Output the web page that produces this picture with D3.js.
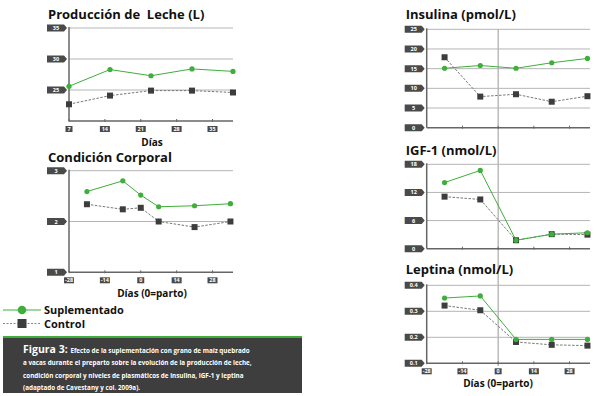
<!DOCTYPE html>
<html><head><meta charset="utf-8">
<script src="https://cdn.jsdelivr.net/npm/d3@7"></script>
<style>
body{margin:0;background:#fff;}
svg{display:block;font-family:"Open Sans","DejaVu Sans",sans-serif;}
</style></head>
<body><svg id="c" width="600" height="396"></svg>
<script>
// ---- data ----
const milkDays = [7, 15, 23, 31, 39];
const milkSup = [25.6, 28.3, 27.3, 28.4, 28.0];
const milkCtl = [22.7, 24.1, 24.9, 24.9, 24.6];
const milkXTicks = [7, 14, 21, 28, 35];
const milkYTicks = [25, 30, 35];

const days = [-21, -7, 7, 21, 35];
const ccDays = [-21, -7, 0, 7, 21, 35];
const ccSup = [2.59, 2.80, 2.52, 2.29, 2.31, 2.35];
const ccCtl = [2.34, 2.24, 2.27, 2.00, 1.89, 2.00];
const ccYTicks = [1, 2, 3];
const dayTicks = [-28, -14, 0, 14, 28];

const insSup = [15.1, 15.8, 15.1, 16.5, 17.6];
const insCtl = [17.9, 7.9, 8.5, 6.6, 8.0];
const insYTicks = [0, 5, 10, 15, 20, 25];

const igfSup = [14.1, 16.7, 1.8, 3.1, 3.4];
const igfCtl = [11.1, 10.5, 1.8, 3.1, 3.0];
const igfYTicks = [0, 6, 12, 18];

const lepSup = [0.351, 0.359, 0.192, 0.192, 0.192];
const lepCtl = [0.322, 0.304, 0.182, 0.171, 0.168];
const lepYTicks = [0.1, 0.2, 0.3, 0.4];

const titles = ["Producción de  Leche (L)", "Condición Corporal", "Insulina (pmol/L)", "IGF-1 (nmol/L)", "Leptina (nmol/L)"];
const legendLabels = ["Suplementado", "Control"];
const captionLines = [
  "Efecto de la suplementación con grano de maíz quebrado",
  "a vacas durante el preparto sobre la evolución de la producción de leche,",
  "condición corporal y niveles de plasmáticos de insulina, IGF-1 y leptina",
  "(adaptado de Cavestany y col. 2009a)."
];

const GREEN = "#3fae3a", DARK = "#3d3d3d", TAG = "#4a4a4a";
const svg = d3.select("#c");

function tagY(g, x, y, label) {
  const w = 17, h = 7;
  const p = d3.path();
  p.moveTo(x - 22, y - h/2); p.lineTo(x - 22 + w, y - h/2); p.lineTo(x - 22 + w + 3, y);
  p.lineTo(x - 22 + w, y + h/2); p.lineTo(x - 22, y + h/2); p.closePath();
  g.append("path").attr("d", p.toString()).attr("fill", TAG);
  g.append("text").attr("x", x - 22 + w/2 + 0.5).attr("y", y + 2).attr("text-anchor", "middle")
    .attr("font-size", 5.5).attr("font-weight", 700).attr("fill", "#fff").text(label);
}
function tagX(g, x, y, label) {
  const w = String(label).length > 1 ? 10 : 7, h = 6;
  g.append("rect").attr("x", x - w/2).attr("y", y - h/2).attr("width", w).attr("height", h).attr("fill", TAG);
  g.append("text").attr("x", x).attr("y", y + 2).attr("text-anchor", "middle")
    .attr("font-size", 5.5).attr("font-weight", 700).attr("fill", "#fff").text(label);
}

function panel(o) {
  const g = svg.append("g");
  const x = d3.scaleLinear().domain(o.xd).range([o.x0, o.x1]);
  const y = d3.scaleLinear().domain(o.yd).range([o.y0, o.y1]);
  o.yTicks.forEach(t => {
    if (y(t) < o.y0 - 1) g.append("line").attr("x1", o.x0).attr("x2", o.x1).attr("y1", y(t)).attr("y2", y(t))
      .attr("stroke", "#b5b5b5").attr("stroke-width", 1);
    tagY(g, o.x0, y(t), o.fmt ? o.fmt(t) : t);
  });
  g.append("line").attr("x1", o.x0).attr("x2", o.x0).attr("y1", o.y1 - 1).attr("y2", o.y0).attr("stroke", "#666").attr("stroke-width", 1.5);
  g.append("line").attr("x1", o.x0).attr("x2", o.x1).attr("y1", o.y0).attr("y2", o.y0).attr("stroke", "#666").attr("stroke-width", 1.5);
  o.xTicks.forEach(t => {
    g.append("line").attr("x1", x(t)).attr("x2", x(t)).attr("y1", o.y0 - 2).attr("y2", o.y0 + 1).attr("stroke", "#666").attr("stroke-width", 1);
    if (o.xLabels) tagX(g, x(t), o.y0 + 8, t);
  });
  if (o.title) g.append("text").attr("x", o.x0 - 21).attr("y", o.titleY).attr("font-size", 13).attr("font-weight", 700)
    .attr("fill", "#111").style("white-space", "pre").attr("xml:space", "preserve").text(o.title);
  if (o.xTitle) g.append("text").attr("x", o.xTitleX).attr("y", o.xTitleY).attr("text-anchor", "middle").attr("font-size", 10).attr("font-weight", 700).attr("fill", "#111").text(o.xTitle);
  const line = d3.line().x((d, i) => x(o.xs[i])).y(d => y(d));
  g.append("path").attr("d", line(o.ctl)).attr("fill", "none").attr("stroke", "#777").attr("stroke-width", 1).attr("stroke-dasharray", "2.5,1.5");
  g.append("path").attr("d", line(o.sup)).attr("fill", "none").attr("stroke", GREEN).attr("stroke-width", 1);
  o.ctl.forEach((d, i) => g.append("rect").attr("x", x(o.xs[i]) - 3).attr("y", y(d) - 3).attr("width", 6).attr("height", 6).attr("fill", DARK));
  o.sup.forEach((d, i) => g.append("circle").attr("cx", x(o.xs[i])).attr("cy", y(d)).attr("r", 2.6).attr("fill", GREEN));
  return {x, y};
}

panel({x0: 69, x1: 233, y0: 121, y1: 28, xd: [7, 39], yd: [20, 35], yTicks: milkYTicks, xTicks: milkXTicks, xLabels: true,
  xs: milkDays, sup: milkSup, ctl: milkCtl, title: titles[0], titleY: 19, xTitle: "Días", xTitleX: 152, xTitleY: 146});
panel({x0: 69, x1: 233, y0: 272.3, y1: 170.7, xd: [-28, 36], yd: [1, 3], yTicks: ccYTicks, xTicks: dayTicks, xLabels: true,
  xs: ccDays, sup: ccSup, ctl: ccCtl, title: titles[1], titleY: 162, xTitle: "Días (0=parto)", xTitleX: 152, xTitleY: 297});

const xr = d3.scaleLinear().domain([-28, 36]).range([426.7, 590]);
svg.append("line").attr("x1", xr(0)).attr("x2", xr(0)).attr("y1", 29).attr("y2", 366).attr("stroke", "#999").attr("stroke-width", 1);

panel({x0: 426.7, x1: 590, y0: 127.7, y1: 29.3, xd: [-28, 36], yd: [0, 25], yTicks: insYTicks, xTicks: dayTicks.slice(1), xLabels: false,
  xs: days, sup: insSup, ctl: insCtl, title: titles[2], titleY: 19});
panel({x0: 426.7, x1: 590, y0: 248.7, y1: 164.3, xd: [-28, 36], yd: [0, 18], yTicks: igfYTicks, xTicks: dayTicks.slice(1), xLabels: false,
  xs: days, sup: igfSup, ctl: igfCtl, title: titles[3], titleY: 155});
panel({x0: 426.7, x1: 590, y0: 363.3, y1: 285.3, xd: [-28, 36], yd: [0.1, 0.4], yTicks: lepYTicks, xTicks: dayTicks, xLabels: true, fmt: d3.format(".1f"),
  xs: days, sup: lepSup, ctl: lepCtl, title: titles[4], titleY: 274, xTitle: "Días (0=parto)", xTitleX: 498, xTitleY: 387});

// legend
const lg = svg.append("g");
lg.append("line").attr("x1", 3).attr("x2", 41).attr("y1", 310).attr("y2", 310).attr("stroke", GREEN).attr("stroke-width", 1.2);
lg.append("circle").attr("cx", 22).attr("cy", 310).attr("r", 4.3).attr("fill", GREEN);
lg.append("text").attr("x", 44).attr("y", 314).attr("font-size", 11).attr("font-weight", 700).attr("fill", "#111").text(legendLabels[0]);
lg.append("line").attr("x1", 3).attr("x2", 41).attr("y1", 323.5).attr("y2", 323.5).attr("stroke", "#888").attr("stroke-width", 1).attr("stroke-dasharray", "2,1.5");
lg.append("rect").attr("x", 17.5).attr("y", 319).attr("width", 9).attr("height", 9).attr("fill", DARK);
lg.append("text").attr("x", 44).attr("y", 328).attr("font-size", 11).attr("font-weight", 700).attr("fill", "#111").text(legendLabels[1]);

// caption box
const cb = svg.append("g");
cb.append("rect").attr("x", 3).attr("y", 337).attr("width", 299).attr("height", 56).attr("fill", "#3e3e3e");
cb.append("rect").attr("x", 3).attr("y", 336).attr("width", 299).attr("height", 2).attr("fill", GREEN);
const t0 = cb.append("text").attr("x", 23).attr("y", 352.5).attr("fill", "#fff").attr("font-weight", 700);
t0.append("tspan").attr("font-size", 10.5).text("Figura 3: ");
t0.append("tspan").attr("font-size", 6.3).text(captionLines[0]);
captionLines.slice(1).forEach((l, i) => cb.append("text").attr("x", 23).attr("y", 365 + i * 12.5)
  .attr("fill", "#fff").attr("font-weight", 700).attr("font-size", 6.3).text(l));
</script></body></html>
